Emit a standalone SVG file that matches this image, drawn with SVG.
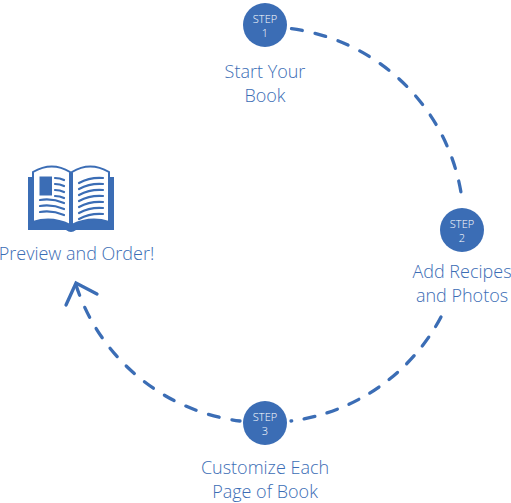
<svg xmlns="http://www.w3.org/2000/svg" width="511" height="503" viewBox="0 0 511 503">
<style>
.c{fill:none;stroke:#3b6db5;stroke-width:3.3;stroke-linecap:round}
.d{stroke-dasharray:11 13.05}
.n{fill:#3b6db5}
.s{font:300 11px "Open Sans",sans-serif;fill:#fff;text-anchor:middle}
.t{font:300 18px "Open Sans",sans-serif;fill:#3b6db5;text-anchor:middle}
.w{fill:none;stroke:#3b6db5;stroke-width:2.2;stroke-linecap:round}
</style>
<g id="connectors">
<path class="c d" d="M291.5 28.7 A198.7 198.7 0 0 1 462.5 203"/>
<path class="c d" style="stroke-dasharray:11 12.6" d="M441 317 A198.7 198.7 0 0 1 291 421"/>
<path class="c d" d="M76 285 A198.7 198.7 0 0 0 240 421"/>
<path class="c" d="M66 305 L76 283 L97 294"/>
</g>
<g id="step1"><circle class="n" cx="265" cy="25" r="22"/><text class="s" x="265" y="23">STEP</text><text class="s" x="265" y="37">1</text><text class="t" x="265" y="78">Start Your</text><text class="t" x="265" y="102">Book</text></g>
<g id="step2"><circle class="n" cx="462" cy="230" r="22"/><text class="s" x="462" y="228">STEP</text><text class="s" x="462" y="242">2</text><text class="t" x="462" y="278">Add Recipes</text><text class="t" x="462" y="302">and Photos</text></g>
<g id="step3"><circle class="n" cx="265" cy="423" r="22"/><text class="s" x="265" y="421">STEP</text><text class="s" x="265" y="435">3</text><text class="t" x="265" y="474">Customize Each</text><text class="t" x="265" y="498">Page of Book</text></g>
<g id="book">
<path class="n" d="M28 177 H114 V230 H76 Q71 234 66 230 H28 Z"/>
<path d="M33 172 Q52 161 70 172 V225 Q52 216 33 222 Z" fill="#fff" stroke="#3b6db5" stroke-width="2"/>
<path d="M72 172 Q90 161 109 172 V222 Q90 216 72 225 Z" fill="#fff" stroke="#3b6db5" stroke-width="2"/>
<path class="n" d="M39.5 176.5 H52 V195.5 H39.5 Z"/>
<path class="w" d="M55 178 Q60 178 64 180M55 184 Q60 184 64 186M55 190 Q60 190 64 192M55 196 Q60 196 64 198M40 200 Q52 198 64 203M40 206 Q52 204 64 209M40 212 Q52 210 64 215"/>
<path class="w" d="M79 183 Q90 177 103 178M79 189 Q90 183 103 184M79 195 Q90 189 103 190M79 201 Q90 195 103 196M79 207 Q90 201 103 202M79 213 Q90 207 103 208M79 219 Q90 213 103 214"/>
<text class="t" x="76.5" y="260">Preview and Order!</text>
</g>
</svg>
